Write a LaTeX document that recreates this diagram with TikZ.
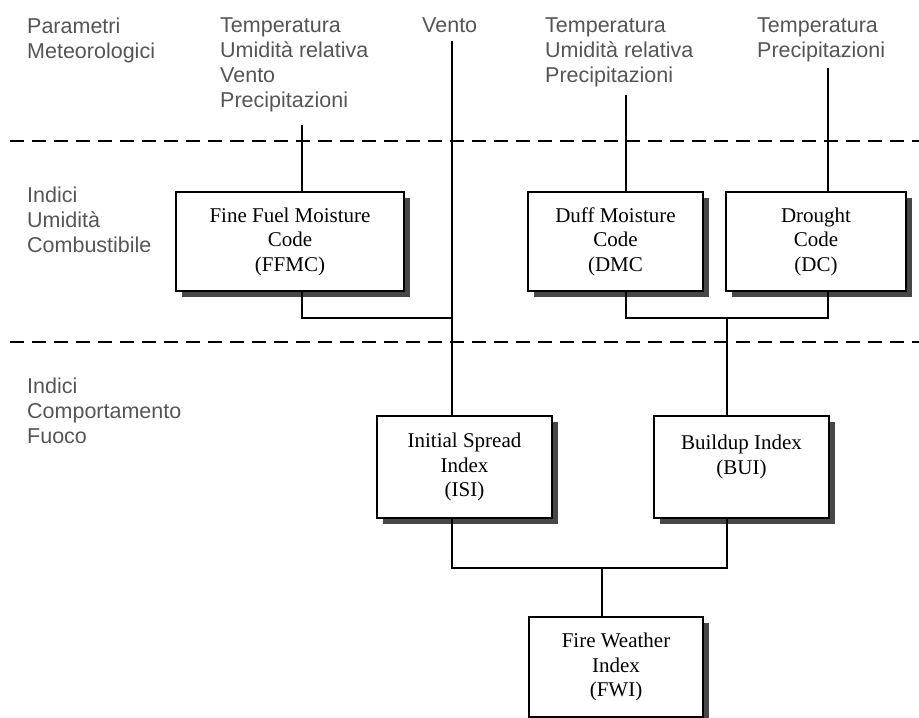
\documentclass[tikz,border=0pt]{standalone}
\usepackage{fontspec}
\setmainfont{Liberation Serif}
\setsansfont{Liberation Sans}
\usetikzlibrary{shadows}
\definecolor{labelgray}{HTML}{555555}
\tikzset{
  param/.style={anchor=north west, inner sep=0pt, align=left, text=labelgray,
    font=\sffamily\fontsize{21.5}{24.7}\selectfont},
  index/.style={draw, line width=2pt, fill=white, align=center, inner sep=0pt,
    font=\fontsize{21}{24.5}\selectfont,
    drop shadow={shadow xshift=6pt, shadow yshift=-6pt, fill=black!72, opacity=1}},
  link/.style={line width=2pt},
  zone/.style={line width=2pt, dash pattern=on 14pt off 8pt}
}
\begin{document}
\begin{tikzpicture}[x=1pt, y=-1pt]
\useasboundingbox (0,0) rectangle (919,718);

% zone separators
\draw[zone] (10,141) -- (919,141);
\draw[zone] (10,342) -- (919,342);

% labels
\node (meteo) [param] at (27,18) {Parametri\\Meteorologici};
\node (umid) [param] at (27,187) {Indici\\Umidità\\Combustibile};
\node (fuoco) [param] at (27,378) {Indici\\Comportamento\\Fuoco};

\node (ffmcIn) [param] at (220,18) {Temperatura\\Umidità relativa\\Vento\\Precipitazioni};
\node (vento) [param] at (422,18) {Vento};
\node (dmcIn) [param] at (545,18) {Temperatura\\Umidità relativa\\Precipitazioni};
\node (dcIn) [param] at (757,18) {Temperatura\\Precipitazioni};

% indices
\node (ffmc) [index, minimum width=228pt, minimum height=99pt] at (290,241.5) {Fine Fuel Moisture\\Code\\(FFMC)};
\node (dmc) [index, minimum width=175pt, minimum height=99pt] at (615.5,241.5) {Duff Moisture\\Code\\(DMC};
\node (dc) [index, minimum width=180pt, minimum height=99pt] at (816,241.5) {Drought\\Code\\(DC)};
\node (isi) [index, minimum width=175pt, minimum height=102pt] at (464.5,467) {Initial Spread\\Index\\(ISI)};
\node (bui) [index, minimum width=175pt, minimum height=102pt] at (741.5,467) {Buildup Index\\(BUI)\\\mbox{}};
\node (fwi) [index, minimum width=174pt, minimum height=100pt] at (616,667) {Fire Weather\\Index\\(FWI)};

% line ends
\coordinate (ffmcTop) at (302,125);
\coordinate (ventoTop) at (452,41);
\coordinate (dmcTop) at (626,95);
\coordinate (dcTop) at (828,68);
\coordinate (jA) at (452,318);
\coordinate (jB) at (727,318);
\coordinate (jC) at (602,568);

\draw[link] (ffmcTop) -- (ffmcTop |- ffmc.north);
\draw[link] (dmcTop) -- (dmcTop |- dmc.north);
\draw[link] (dcTop) -- (dcTop |- dc.north);
\draw[link] (ventoTop) -- (ventoTop |- isi.north);

\draw[link] (ffmcTop |- ffmc.south) |- (jA);
\draw[link] (dmcTop |- dmc.south) |- (jB) -| (dcTop |- dc.south);
\draw[link] (jB) -- (jB |- bui.north);
\draw[link] (ventoTop |- isi.south) |- (jC) -| (jB |- bui.south);
\draw[link] (jC) -- (jC |- fwi.north);
\end{tikzpicture}
\end{document}
